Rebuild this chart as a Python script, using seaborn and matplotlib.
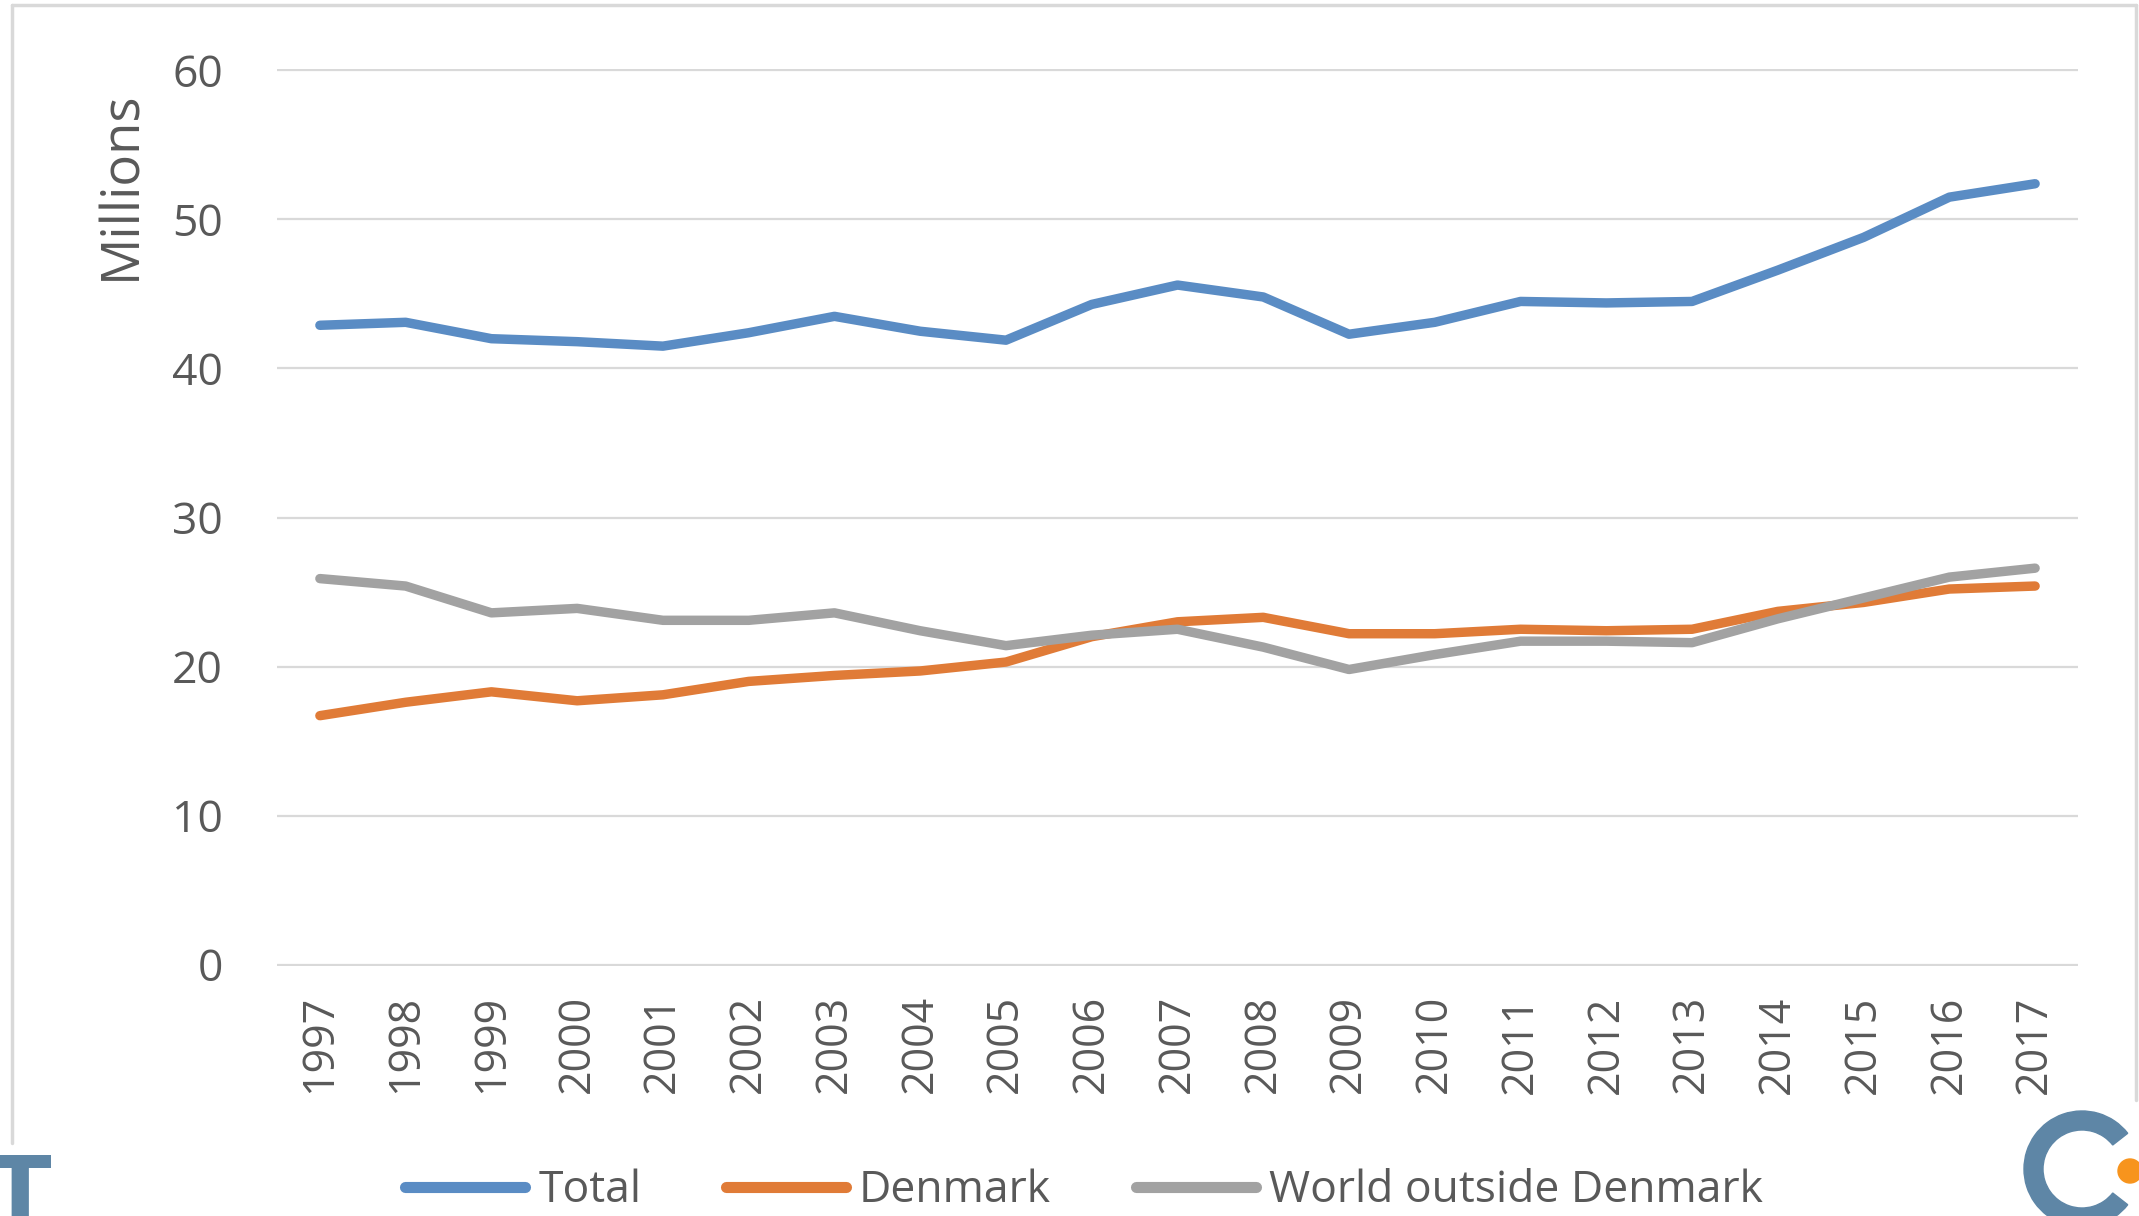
import matplotlib
matplotlib.use("Agg")
import matplotlib.pyplot as plt
from matplotlib.lines import Line2D
from matplotlib.patches import Wedge, Circle
from matplotlib.transforms import IdentityTransform
import pandas as pd
import seaborn as sns

# values (millions)
years = list(range(1997, 2018))
total = [42.9, 43.1, 42.0, 41.8, 41.5, 42.4, 43.5, 42.5, 41.9, 44.3, 45.6,
         44.8, 42.3, 43.1, 44.5, 44.4, 44.5, 46.6, 48.8, 51.5, 52.4]
denmark = [16.7, 17.6, 18.3, 17.7, 18.1, 19.0, 19.4, 19.7, 20.3, 22.0, 23.0,
           23.3, 22.2, 22.2, 22.5, 22.4, 22.5, 23.7, 24.3, 25.2, 25.4]
world = [25.9, 25.4, 23.6, 23.9, 23.1, 23.1, 23.6, 22.4, 21.4, 22.1, 22.5,
         21.3, 19.8, 20.8, 21.7, 21.7, 21.6, 23.2, 24.6, 26.0, 26.6]
series_names = ["Total", "Denmark", "World outside Denmark"]
series_colors = ["#5A8CC4", "#E07B37", "#A2A2A2"]
y_ticks = [0, 10, 20, 30, 40, 50, 60]

df = pd.DataFrame({
    "year": years * 3,
    "value": total + denmark + world,
    "series": [n for n in series_names for _ in years],
})

sns.set_theme(style="white")
plt.rcParams["font.family"] = ["Open Sans", "DejaVu Sans"]
text_color = "#595959"

W, H = 2139, 1216
fig = plt.figure(figsize=(W / 100, H / 100), dpi=100)
ax = fig.add_axes([277 / W, 1 - 966 / H, (2078 - 277) / W, (966 - 69) / H])

palette = dict(zip(series_names, series_colors))
sns.lineplot(data=df, x="year", y="value", hue="series", hue_order=series_names,
             palette=palette, linewidth=6.8, ax=ax, legend=False,
             solid_capstyle="round", solid_joinstyle="round")

ax.set_xlim(1996.5, 2017.5)
ax.set_ylim(-0.1, 60.1)
ax.set_xticks(years)
ax.set_xticklabels([str(y) for y in years], rotation=90)
ax.set_yticks(y_ticks)
ax.set_xlabel("")
ax.set_ylabel("")
ax.yaxis.grid(True, color="#D9D9D9", linewidth=1.6)
ax.xaxis.grid(False)
ax.set_axisbelow(True)
for s in ax.spines.values():
    s.set_visible(False)
ax.tick_params(axis="x", length=0, pad=21, labelsize=31, labelcolor=text_color)
ax.tick_params(axis="y", length=0, pad=39, labelsize=32, labelcolor=text_color)

fig.text(122 / W, 1 - 185 / H, "Millions", rotation=90, ha="center", va="center",
         fontsize=38, color=text_color)

handles = [Line2D([], [], color=c, linewidth=8) for c in series_colors]
fig.legend(handles, series_names, loc="center", bbox_to_anchor=(1084 / W, 1 - 1191 / H),
           ncol=3, frameon=False, fontsize=32, handlelength=2.7, handletextpad=0.3,
           columnspacing=1.9, labelcolor=text_color, borderpad=0.1)

# light frame around the chart
frame = "#D9D9D9"
fig.add_artist(Line2D([12 / W, 2136 / W], [1 - 5 / H, 1 - 5 / H], transform=fig.transFigure,
                      color=frame, linewidth=2.5))
fig.add_artist(Line2D([12 / W, 12 / W], [1 - 5 / H, 1 - 1143 / H], transform=fig.transFigure,
                      color=frame, linewidth=2.5))
fig.add_artist(Line2D([2136 / W, 2136 / W], [1 - 5 / H, 1 - 1100 / H], transform=fig.transFigure,
                      color=frame, linewidth=2.5))

# corner decorations
logo_blue = "#5E86A6"
fig.text(20 / W, 1 - 1150 / H, "T", ha="center", va="top", fontsize=66,
         fontweight="bold", color=logo_blue, family="DejaVu Sans")
fig.add_artist(Wedge((2082, H - 1169), 58, 38, 322, width=19, color=logo_blue,
                     transform=IdentityTransform()))
fig.add_artist(Circle((2130, H - 1171), 12, color="#F7941D", transform=IdentityTransform()))

fig.savefig("out.png", dpi=100)
